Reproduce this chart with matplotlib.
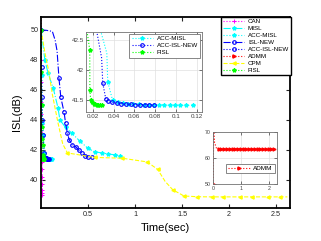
import matplotlib.pyplot as plt
import numpy as np

plt.rcParams['font.family'] = ['Liberation Sans', 'DejaVu Sans']

# ---- data (time in sec, ISL in dB) ----
can_t = [0, 0.001, 0.002, 0.003, 0.004, 0.005, 0.006, 0.007, 0.008, 0.009, 0.010, 0.011, 0.012, 0.013, 0.014, 0.015]
can_v = [50, 48.0, 46.5, 45.2, 44.4, 43.7, 43.1, 42.4, 41.8, 41.2, 40.7, 40.2, 39.7, 39.3, 39.1, 39.0]

misl_t = [0, 0.04, 0.075, 0.13, 0.18, 0.2, 0.26, 0.33, 0.41, 0.5, 0.57, 0.65, 0.71, 0.79, 0.84]
misl_v = [50, 48.0, 47.1, 46.1, 44.8, 44.0, 43.5, 43.1, 42.6, 42.1, 41.87, 41.8, 41.73, 41.67, 41.6]

accmisl_t = [0, 0.005, 0.01, 0.015, 0.022, 0.0335, 0.0344, 0.039, 0.044, 0.049, 0.054, 0.059, 0.064,
             0.069, 0.074, 0.079, 0.084, 0.089, 0.094, 0.099, 0.104, 0.110, 0.116]
accmisl_v = [50, 47.0, 45.0, 43.8, 43.0, 42.28, 41.8, 41.5, 41.47, 41.45, 41.44, 41.43, 41.43,
             41.42, 41.42, 41.42, 41.42, 41.42, 41.41, 41.41, 41.41, 41.41, 41.41]

islnew_t = [0, 0.06, 0.12, 0.15, 0.17, 0.19, 0.21, 0.245, 0.26, 0.28, 0.3, 0.33, 0.37, 0.4, 0.43, 0.47, 0.5, 0.54]
islnew_v = [50, 49.97, 49.9, 49.3, 48.6, 46.8, 45.5, 44.5, 43.8, 43.1, 42.67, 42.33, 42.2, 42.0, 41.8, 41.6, 41.55, 41.5]

accisl_t = [0, 0.005, 0.01, 0.015, 0.02, 0.0285, 0.0296, 0.0325, 0.035, 0.0385, 0.043, 0.0475, 0.052,
            0.0565, 0.061, 0.0655, 0.070, 0.0745, 0.079]
accisl_v = [50, 47.5, 45.5, 44.0, 43.0, 42.2, 41.78, 41.52, 41.48, 41.46, 41.45, 41.44, 41.43,
            41.43, 41.42, 41.42, 41.42, 41.42, 41.42]

admm_t = [0, 0.02, 0.05, 0.12, 0.2, 0.3, 0.4, 0.5, 0.6, 0.7, 0.8, 0.9, 1.0, 1.1, 1.2, 1.3, 1.4, 1.5,
          1.6, 1.7, 1.8, 1.9, 2.0, 2.1, 2.2]
admm_v = [50, 70, 66, 63.7, 63.5, 63.5, 63.5, 63.5, 63.5, 63.5, 63.5, 63.5, 63.5, 63.5, 63.5, 63.5,
          63.5, 63.5, 63.5, 63.5, 63.5, 63.5, 63.5, 63.5, 63.5]

cpm_t = [0, 0.04, 0.08, 0.12, 0.18, 0.23, 0.28, 0.57, 0.86, 1.13, 1.24, 1.32, 1.4, 1.52, 1.66,
         1.82, 1.94, 2.12, 2.24, 2.41, 2.54, 2.62]
cpm_v = [50, 48.5, 47.3, 45.7, 43.8, 42.4, 41.8, 41.5, 41.45, 41.2, 40.7, 39.9, 39.35, 38.93, 38.88,
         38.87, 38.87, 38.87, 38.87, 38.87, 38.87, 38.87]

fisl_t = [0, 0.003, 0.006, 0.009, 0.014, 0.0171, 0.0172, 0.018, 0.0195, 0.021, 0.0225, 0.024, 0.0255, 0.027, 0.0285]
fisl_v = [50, 47.2, 45.0, 43.5, 42.7, 42.33, 41.67, 41.5, 41.46, 41.44, 41.43, 41.42, 41.42, 41.41, 41.41]

MAG = '#ff00ff'
CYA = '#00ffff'
BLU = '#0000ff'
RED = '#ff0000'
YEL = '#ffff00'
GRN = '#00ff00'

lw = 0.8
ms = 2.3
mso = 2.6


def style_small(ax, fs):
    for s in ax.spines.values():
        s.set_color('0.45')
        s.set_linewidth(0.6)
    ax.tick_params(direction='in', length=2, width=0.5, labelsize=fs, colors='0.25',
                   top=True, right=True, pad=1.5)
    ax.grid(True, color='0.88', linewidth=0.5)


fig = plt.figure(figsize=(3.21, 2.41), dpi=100)
ax = fig.add_axes([0.128, 0.137, 0.776, 0.793])

ax.plot(can_t, can_v, ':', color=MAG, marker='+', ms=ms + 0.5, mew=0.7, lw=lw, label='CAN')
ax.plot(misl_t, misl_v, '-.', color=CYA, marker='*', ms=ms + 0.6, lw=lw, label='MISL')
ax.plot(accmisl_t, accmisl_v, ':', color=CYA, marker='*', ms=ms + 0.6, lw=lw, label='ACC-MISL',
        markevery=[i for i in range(len(accmisl_t)) if i != 5])
ax.plot(islnew_t, islnew_v, '-.', color=BLU, marker='o', ms=mso, mfc='none', mew=0.8, lw=lw,
        label='ISL-NEW', markevery=list(range(5, len(islnew_t))))
ax.plot(accisl_t, accisl_v, ':', color=BLU, marker='o', ms=mso, mfc='none', mew=0.8, lw=lw,
        label='ACC-ISL-NEW', markevery=[i for i in range(len(accisl_t)) if i != 5])
ax.plot(admm_t, admm_v, ':', color=RED, marker='>', ms=ms, lw=lw, label='ADMM')
ax.plot(cpm_t, cpm_v, '--', color=YEL, marker='<', ms=ms, lw=lw, label='CPM',
        markevery=[i for i in range(6, len(cpm_t) - 1) if i != 11])
ax.plot(fisl_t, fisl_v, ':', color=GRN, marker='*', ms=ms + 0.6, lw=lw, label='FISL')

ax.set_xlim(0, 2.65)
ax.set_ylim(38.13, 50.87)
ax.set_xticks([0.5, 1, 1.5, 2, 2.5])
ax.set_xticklabels(['0.5', '1', '1.5', '2', '2.5'])
ax.set_yticks([40, 42, 44, 46, 48, 50])
for s in ax.spines.values():
    s.set_linewidth(1.3)
ax.tick_params(direction='in', length=3, width=0.8, labelsize=5.2, colors='#262626',
               top=True, right=True, pad=2)
ax.set_xlabel('Time(sec)', fontsize=8, labelpad=4)
ax.set_ylabel('ISL(dB)', fontsize=8, labelpad=6)

leg = ax.legend(loc='upper right', bbox_to_anchor=(1.005, 1.0), borderaxespad=0, fontsize=4.5,
                handlelength=3.4, handletextpad=0.6, labelspacing=0.25, borderpad=0.35,
                fancybox=False, framealpha=1)
leg.get_frame().set_edgecolor('k')
leg.get_frame().set_linewidth(1.0)

# zoomed inset of the fast methods
ax1 = fig.add_axes([0.268, 0.535, 0.361, 0.332])
ax1.plot(accmisl_t, accmisl_v, ':', color=CYA, marker='*', ms=ms + 0.6, lw=lw, label='ACC-MISL',
         markevery=[i for i in range(len(accmisl_t)) if i != 5])
ax1.plot(accisl_t, accisl_v, ':', color=BLU, marker='o', ms=mso, mfc='none', mew=0.8, lw=lw,
         label='ACC-ISL-NEW', markevery=[i for i in range(len(accisl_t)) if i != 5])
ax1.plot(fisl_t, fisl_v, ':', color=GRN, marker='*', ms=ms + 0.6, lw=lw, label='FISL')
ax1.set_xlim(0.0135, 0.125)
ax1.set_ylim(41.3, 42.63)
ax1.set_xticks([0.02, 0.04, 0.06, 0.08, 0.1, 0.12])
ax1.set_xticklabels(['0.02', '0.04', '0.06', '0.08', '0.1', '0.12'])
ax1.set_yticks([41.5, 42, 42.5])
ax1.set_yticklabels(['41.5', '42', '42.5'])
style_small(ax1, 4.5)
l1 = ax1.legend(loc='upper right', fontsize=4.5, handlelength=3.4, handletextpad=0.6,
                labelspacing=0.25, borderpad=0.35, borderaxespad=0.3, fancybox=False, framealpha=1)
l1.get_frame().set_edgecolor('0.45')
l1.get_frame().set_linewidth(0.6)

# inset for ADMM
ax2 = fig.add_axes([0.664, 0.237, 0.199, 0.216])
ax2.plot(admm_t, admm_v, ':', color=RED, marker='>', ms=2.2, lw=lw, label='ADMM',
         markevery=[i for i in range(len(admm_t)) if i not in (1, 2, 3)])
ax2.set_xlim(0, 2.3)
ax2.set_ylim(50, 70)
ax2.set_xticks([0, 1, 2])
ax2.set_yticks([50, 60, 70])
style_small(ax2, 3.8)
l2 = ax2.legend(loc='lower right', bbox_to_anchor=(0.97, 0.2), fontsize=4.6, handlelength=3.4,
                handletextpad=0.6, borderpad=0.35, borderaxespad=0, fancybox=False, framealpha=1)
l2.get_frame().set_edgecolor('0.45')
l2.get_frame().set_linewidth(0.6)

fig.savefig('out.png', dpi=100)
